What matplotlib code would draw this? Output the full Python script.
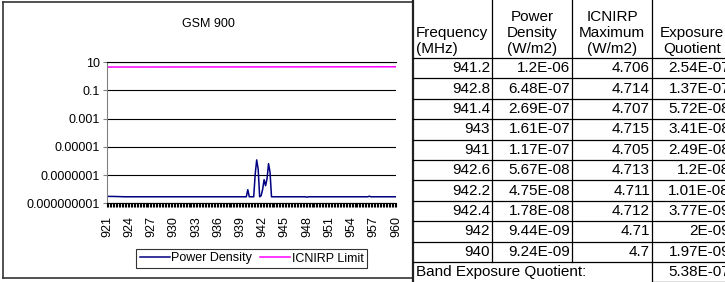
import matplotlib
matplotlib.use('Agg')
import matplotlib.pyplot as plt
from matplotlib.lines import Line2D
from matplotlib.ticker import MultipleLocator, FixedLocator

plt.rcParams['font.family'] = ['Liberation Sans', 'DejaVu Sans']

W, H = 725, 282

# measured spectrum, GSM 900 band (MHz, W/m2)
freq = [921, 922, 923.4, 939.8, 940, 940.2, 940.8, 941, 941.2, 941.4, 941.6,
        941.8, 942, 942.2, 942.4, 942.6, 942.8, 943, 943.2, 947.8, 948, 948.2,
        956.2, 956.4, 956.6, 960]
power = [3.1e-9, 3.05e-9, 2.9e-9, 2.9e-9, 9.24e-9, 2.9e-9, 2.9e-9, 1.17e-7,
         1.2e-6, 2.69e-7, 2.9e-9, 3.5e-9, 9.44e-9, 4.75e-8, 1.78e-8, 5.67e-8,
         6.48e-7, 1.61e-7, 2.9e-9, 2.9e-9, 2.7e-9, 2.9e-9, 2.9e-9, 3.2e-9,
         2.9e-9, 2.9e-9]

# ICNIRP reference level f/200
limit_freq = [921, 960]
limit = [4.605, 4.8]

ytick_vals = [10, 0.1, 0.001, 1e-5, 1e-7, 1e-9]
ytick_labels = ['10', '0.1', '0.001', '0.00001', '0.0000001', '0.000000001']
xtick_vals = list(range(921, 961, 3))

# table of the strongest channels
tab_freq = ['941.2', '942.8', '941.4', '943', '941', '942.6', '942.2', '942.4', '942', '940']
tab_pd = ['1.2E-06', '6.48E-07', '2.69E-07', '1.61E-07', '1.17E-07', '5.67E-08',
          '4.75E-08', '1.78E-08', '9.44E-09', '9.24E-09']
tab_max = ['4.706', '4.714', '4.707', '4.715', '4.705', '4.713', '4.711', '4.712',
           '4.71', '4.7']
tab_eq = ['2.54E-07', '1.37E-07', '5.72E-08', '3.41E-08', '2.49E-08', '1.2E-08',
          '1.01E-08', '3.77E-09', '2E-09', '1.97E-09']
band_eq = '5.38E-07'


def fx(x):
    return x / W


def fy(y):
    return 1 - y / H


fig = plt.figure(figsize=(W / 100, H / 100), dpi=100)

# ---- chart ----
ax = fig.add_axes([fx(107), fy(203.3), fx(396) - fx(107), fy(62.3) - fy(203.3)])
ax.plot(freq, power, color='#000080', lw=1.1, label='Power Density')
ax.plot(limit_freq, limit, color='#FF00FF', lw=1.1, label='ICNIRP Limit')
ax.set_yscale('log')
ax.set_ylim(1e-9, 10)
ax.set_xlim(921, 960)
ax.yaxis.set_major_locator(FixedLocator(ytick_vals))
ax.set_yticks(ytick_vals, ytick_labels)
ax.yaxis.set_minor_locator(FixedLocator([]))
ax.set_xticks(xtick_vals, [str(v) for v in xtick_vals], rotation=90)
ax.xaxis.set_minor_locator(MultipleLocator(0.2))
ax.tick_params(axis='both', which='both', direction='out', length=3, width=0.8,
               labelsize=9, pad=2)
ax.tick_params(axis='x', which='major', pad=6)
ax.tick_params(axis='y', colors='#808080', labelcolor='black')
ax.grid(axis='y', color='black', lw=0.8)
ax.set_axisbelow(True)
ax.spines['right'].set_visible(False)
ax.spines['top'].set_color('black')
ax.spines['top'].set_linewidth(0.8)
ax.spines['left'].set_color('#808080')
ax.spines['bottom'].set_color('black')

fig.text(fx(208), fy(24), 'GSM 900', ha='center', va='center', fontsize=9)

leg = ax.legend(loc='center', bbox_to_anchor=(fx(251.5), fy(258.5)),
                bbox_transform=fig.transFigure, ncol=2, fontsize=9,
                frameon=True, fancybox=False, edgecolor='black',
                handlelength=2.4, handletextpad=0.15, columnspacing=0.6,
                borderpad=0.3, borderaxespad=0)
leg.get_frame().set_linewidth(0.8)


def line(x0, y0, x1, y1, lw=0.9, color='black'):
    fig.add_artist(Line2D([fx(x0), fx(x1)], [fy(y0), fy(y1)], color=color,
                          lw=lw, transform=fig.transFigure))


# chart border
line(3, 2, 412.7, 2, lw=1.2, color='#333333')
line(3, 2, 3, 278, lw=1.2, color='#333333')
line(3, 278, 412.7, 278, lw=1.2, color='#333333')
line(412.7, 0, 412.7, 282, lw=1.6, color='#222222')

# ---- table ----
cols = [412.7, 492, 572, 652, 732]
head_bot = 58
pitch = 20.4
n = len(tab_freq)
rows_bot = head_bot + pitch * n

line(cols[0], head_bot, cols[-1], head_bot)
for i in range(1, n + 1):
    line(cols[0], head_bot + pitch * i, cols[-1], head_bot + pitch * i)
for c in cols[1:4]:
    line(c, 0, c, rows_bot)
line(cols[3], rows_bot, cols[3], rows_bot + pitch)
line(cols[3], rows_bot + pitch - 0.5, cols[4], rows_bot + pitch - 0.5)

fs = 11
hdr_y = [17, 33, 49]
fig.text(fx(416), fy(hdr_y[1]), 'Frequency', ha='left', va='center', fontsize=fs)
fig.text(fx(416), fy(hdr_y[2]), '(MHz)', ha='left', va='center', fontsize=fs)
for j, lines in enumerate([['Power', 'Density', '(W/m2)'],
                           ['ICNIRP', 'Maximum', '(W/m2)'],
                           ['', 'Exposure', 'Quotient']]):
    cx = (cols[j + 1] + cols[j + 2]) / 2
    for k, t in enumerate(lines):
        fig.text(fx(cx), fy(hdr_y[k]), t, ha='center', va='center', fontsize=fs)

for i in range(n):
    yc = head_bot + pitch * (i + 0.5)
    for j, col in enumerate([tab_freq, tab_pd, tab_max, tab_eq]):
        fig.text(fx(cols[j + 1] - 2), fy(yc), col[i], ha='right', va='center',
                 fontsize=fs)

yc = rows_bot + pitch / 2
fig.text(fx(416), fy(yc), 'Band Exposure Quotient:', ha='left', va='center', fontsize=fs)
fig.text(fx(cols[4] - 2), fy(yc), band_eq, ha='right', va='center', fontsize=fs)

fig.savefig('out.png', dpi=100)
